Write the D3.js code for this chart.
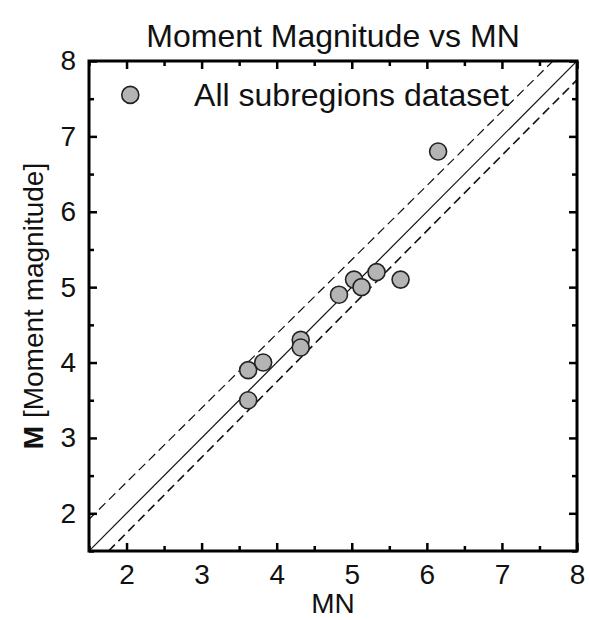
<!DOCTYPE html>
<html>
<head>
<meta charset="utf-8">
<script src="https://cdn.jsdelivr.net/npm/d3@7"></script>
<style>
  html, body { margin: 0; padding: 0; background: #fff; }
  svg { display: block; font-family: "Liberation Sans", Arial, Helvetica, sans-serif; }
</style>
</head>
<body>
<svg id="chart" width="590" height="620"></svg>
<script>
// Observations: MN magnitude vs moment magnitude M
const mnValues = [3.62, 3.82, 3.62, 4.32, 4.32, 4.83, 5.03, 5.13, 5.33, 5.65, 6.15];
const mValues  = [3.9, 4.0, 3.5, 4.3, 4.2, 4.9, 5.1, 5.0, 5.2, 5.1, 6.8];

// Reference lines: 1:1 and the dashed bounds around it
const oneToOne   = [[1.5, 1.5], [8, 8]];
const upperBound = [[1.5, 1.92], [7.68, 8]];
const lowerBound = [[1.76, 1.5], [8, 7.75]];

const xTicks = [2, 3, 4, 5, 6, 7, 8];
const yTicks = [2, 3, 4, 5, 6, 7, 8];
const minorTicks = [1.5, 2.5, 3.5, 4.5, 5.5, 6.5, 7.5];

const titleText = "Moment Magnitude vs MN";
const xLabel = "MN";
const legendLabel = "All subregions dataset";

const svg = d3.select("#chart");
const margin = { left: 89, right: 13, top: 61, bottom: 69 };
const W = 590, H = 620;

const x = d3.scaleLinear().domain([1.5, 8]).range([margin.left, W - margin.right]);
const y = d3.scaleLinear().domain([1.5, 8]).range([H - margin.bottom, margin.top]);

const plot = svg.append("g");

// clip the reference lines to the frame
svg.append("clipPath").attr("id", "frameClip")
  .append("rect")
  .attr("x", x(1.5)).attr("y", y(8))
  .attr("width", x(8) - x(1.5)).attr("height", y(1.5) - y(8));

const line = d3.line().x(d => x(d[0])).y(d => y(d[1]));
const lines = plot.append("g").attr("clip-path", "url(#frameClip)");
lines.append("path").datum(oneToOne).attr("d", line)
  .attr("fill", "none").attr("stroke", "#111").attr("stroke-width", 1.2);
lines.append("path").datum(upperBound).attr("d", line)
  .attr("fill", "none").attr("stroke", "#111").attr("stroke-width", 1.2)
  .attr("stroke-dasharray", "9,5");
lines.append("path").datum(lowerBound).attr("d", line)
  .attr("fill", "none").attr("stroke", "#111").attr("stroke-width", 1.6)
  .attr("stroke-dasharray", "9,5");

// data points
const points = mnValues.map((v, i) => ({ mn: v, m: mValues[i] }));
plot.append("g").selectAll("circle").data(points).join("circle")
  .attr("cx", d => x(d.mn)).attr("cy", d => y(d.m)).attr("r", 8.5)
  .attr("fill", "#b4b4b4").attr("stroke", "#222").attr("stroke-width", 1.6);

// axes with inward ticks on all four sides
function styleAxis(g) {
  g.select(".domain").remove();
  g.selectAll(".tick line").attr("stroke", "#000").attr("stroke-width", 2.5);
  g.selectAll(".tick text").attr("font-size", 28).attr("fill", "#111")
    .attr("font-family", "Liberation Sans, Arial, sans-serif");
}
const majorLen = 8, minorLen = 5;

svg.append("g").attr("transform", `translate(0,${y(1.5)})`)
  .call(d3.axisBottom(x).tickValues(xTicks).tickFormat(d3.format("d"))
    .tickSizeInner(-majorLen).tickSizeOuter(0).tickPadding(13))
  .call(styleAxis);
svg.append("g").attr("transform", `translate(0,${y(1.5)})`)
  .call(d3.axisBottom(x).tickValues(minorTicks).tickFormat("").tickSizeInner(-minorLen).tickSizeOuter(0))
  .call(styleAxis);
svg.append("g").attr("transform", `translate(0,${y(8)})`)
  .call(d3.axisTop(x).tickValues(xTicks).tickFormat("").tickSizeInner(-majorLen).tickSizeOuter(0))
  .call(styleAxis);
svg.append("g").attr("transform", `translate(0,${y(8)})`)
  .call(d3.axisTop(x).tickValues(minorTicks).tickFormat("").tickSizeInner(-minorLen).tickSizeOuter(0))
  .call(styleAxis);

svg.append("g").attr("transform", `translate(${x(1.5)},0)`)
  .call(d3.axisLeft(y).tickValues(yTicks).tickFormat(d3.format("d"))
    .tickSizeInner(-majorLen).tickSizeOuter(0).tickPadding(13))
  .call(styleAxis);
svg.append("g").attr("transform", `translate(${x(1.5)},0)`)
  .call(d3.axisLeft(y).tickValues(minorTicks).tickFormat("").tickSizeInner(-minorLen).tickSizeOuter(0))
  .call(styleAxis);
svg.append("g").attr("transform", `translate(${x(8)},0)`)
  .call(d3.axisRight(y).tickValues(yTicks).tickFormat("").tickSizeInner(-majorLen).tickSizeOuter(0))
  .call(styleAxis);
svg.append("g").attr("transform", `translate(${x(8)},0)`)
  .call(d3.axisRight(y).tickValues(minorTicks).tickFormat("").tickSizeInner(-minorLen).tickSizeOuter(0))
  .call(styleAxis);

// frame
svg.append("rect")
  .attr("x", x(1.5)).attr("y", y(8))
  .attr("width", x(8) - x(1.5)).attr("height", y(1.5) - y(8))
  .attr("fill", "none").attr("stroke", "#000").attr("stroke-width", 3);

// legend
svg.append("circle").attr("cx", x(2.05)).attr("cy", y(7.55)).attr("r", 8.5)
  .attr("fill", "#b4b4b4").attr("stroke", "#222").attr("stroke-width", 1.6);
svg.append("text").attr("x", x(2.9)).attr("y", y(7.55)).attr("dy", "0.35em")
  .attr("font-size", 32).attr("fill", "#111").text(legendLabel);

// title
svg.append("text").attr("x", (x(1.5) + x(8)) / 2).attr("y", 47)
  .attr("text-anchor", "middle").attr("font-size", 32).attr("fill", "#111")
  .text(titleText);

// x-axis label
svg.append("text").attr("x", (x(1.5) + x(8)) / 2).attr("y", 613)
  .attr("text-anchor", "middle").attr("font-size", 28).attr("fill", "#111")
  .text(xLabel);

// y-axis label with bold symbol
const yLab = svg.append("text")
  .attr("transform", `translate(43,${(y(1.5) + y(8)) / 2}) rotate(-90)`)
  .attr("text-anchor", "middle").attr("font-size", 28).attr("fill", "#111");
yLab.append("tspan").attr("font-weight", "bold").text("M");
yLab.append("tspan").text(" [Moment magnitude]");
</script>
</body>
</html>
